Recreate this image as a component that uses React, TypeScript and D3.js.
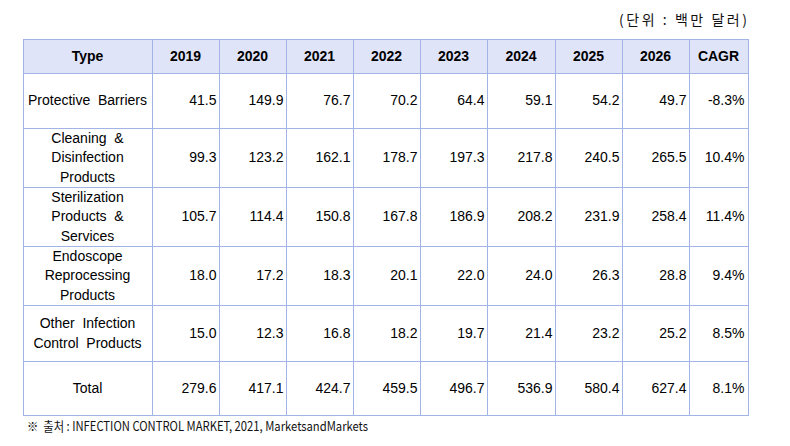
import React from "react";
import * as d3 from "d3";

const headers = ["Type", "2019", "2020", "2021", "2022", "2023", "2024", "2025", "2026", "CAGR"];
const typeLabels = [
  ["Protective  Barriers"],
  ["Cleaning  &", "Disinfection", "Products"],
  ["Sterilization", "Products  &", "Services"],
  ["Endoscope", "Reprocessing", "Products"],
  ["Other  Infection", "Control  Products"],
  ["Total"],
];
const protectiveBarriers = [41.5, 149.9, 76.7, 70.2, 64.4, 59.1, 54.2, 49.7];
const cleaningDisinfection = [99.3, 123.2, 162.1, 178.7, 197.3, 217.8, 240.5, 265.5];
const sterilization = [105.7, 114.4, 150.8, 167.8, 186.9, 208.2, 231.9, 258.4];
const endoscope = [18.0, 17.2, 18.3, 20.1, 22.0, 24.0, 26.3, 28.8];
const otherInfection = [15.0, 12.3, 16.8, 18.2, 19.7, 21.4, 23.2, 25.2];
const total = [279.6, 417.1, 424.7, 459.5, 496.7, 536.9, 580.4, 627.4];
const cagr = ["-8.3%", "10.4%", "11.4%", "9.4%", "8.5%", "8.1%"];
const unitText = "(단위 : 백만 달러)";
const sourceText = "※  출처 : INFECTION CONTROL MARKET, 2021, MarketsandMarkets";

const rows = [protectiveBarriers, cleaningDisinfection, sterilization, endoscope, otherInfection, total];

// layout
const colWidths = [129, 67, 67, 67, 67, 67, 68, 67, 67, 59];
const rowHeights = [34, 55, 59, 59, 59, 56, 54];
const left = 23;
const top = 39;
const colEdges = [left, ...Array.from(d3.cumsum(colWidths), (c) => left + c)];
const rowEdges = [top, ...Array.from(d3.cumsum(rowHeights), (c) => top + c)];
const BORDER = "#a2b3e6";
const HEADER_FILL = "#e0e4f8";
const FONT = "'Liberation Sans', Arial, sans-serif";
const KFONT = "'Noto Sans CJK KR', sans-serif";
const LINE_H = 19.5;
const fmt = d3.format(".1f");

export default function App() {
  const W = 790, H = 446;
  const tableRight = colEdges[colEdges.length - 1];
  const tableBottom = rowEdges[rowEdges.length - 1];
  return (
    <svg width={W} height={H} style={{ position: "absolute", left: 0, top: 0, background: "#fff" }}>
      <rect x={0} y={0} width={W} height={H} fill="#fff" />
      <text x={tableRight - 1} y={25} textAnchor="end" fontFamily={KFONT} fontSize={14} fill="#111"
        textLength={128} lengthAdjust="spacing" style={{ whiteSpace: "pre" }}>{unitText}</text>
      <rect x={colEdges[0]} y={rowEdges[0]} width={tableRight - colEdges[0]} height={rowEdges[1] - rowEdges[0]} fill={HEADER_FILL} />
      {headers.map((h, i) => (
        <text key={h} x={(colEdges[i] + colEdges[i + 1]) / 2} y={(rowEdges[0] + rowEdges[1]) / 2} dy="0.35em"
          textAnchor="middle" fontFamily={FONT} fontWeight="bold" fontSize={14} fill="#000">{h}</text>
      ))}
      {rows.map((vals, r) => {
        const cy = (rowEdges[r + 1] + rowEdges[r + 2]) / 2;
        const lines = typeLabels[r];
        const x0 = (colEdges[0] + colEdges[1]) / 2;
        return (
          <g key={r}>
            {lines.map((ln, k) => (
              <text key={k} x={x0} y={cy + (k - (lines.length - 1) / 2) * LINE_H} dy="0.35em" textAnchor="middle"
                fontFamily={FONT} fontSize={14} fill="#000" style={{ whiteSpace: "pre" }}>{ln}</text>
            ))}
            {vals.map((v, c) => (
              <text key={c} x={colEdges[c + 2] - 2.5} y={cy} dy="0.35em" textAnchor="end"
                fontFamily={FONT} fontSize={14} fill="#000">{fmt(v)}</text>
            ))}
            <text x={colEdges[10] - 3.5} y={cy} dy="0.35em" textAnchor="end" fontFamily={FONT} fontSize={14} fill="#000">{cagr[r]}</text>
          </g>
        );
      })}
      {rowEdges.map((y, i) => (
        <line key={"h" + i} x1={colEdges[0]} x2={tableRight + 1} y1={Math.round(y) + 0.5} y2={Math.round(y) + 0.5} stroke={BORDER} strokeWidth={1} />
      ))}
      {colEdges.map((x, i) => (
        <line key={"v" + i} x1={Math.round(x) + 0.5} x2={Math.round(x) + 0.5} y1={rowEdges[0]} y2={tableBottom + 1} stroke={BORDER} strokeWidth={1} />
      ))}
      <text x={27} y={431} fontFamily={KFONT} fontSize={13} fill="#111" textLength={341} lengthAdjust="spacingAndGlyphs"
        style={{ whiteSpace: "pre" }}>{sourceText}</text>
    </svg>
  );
}
